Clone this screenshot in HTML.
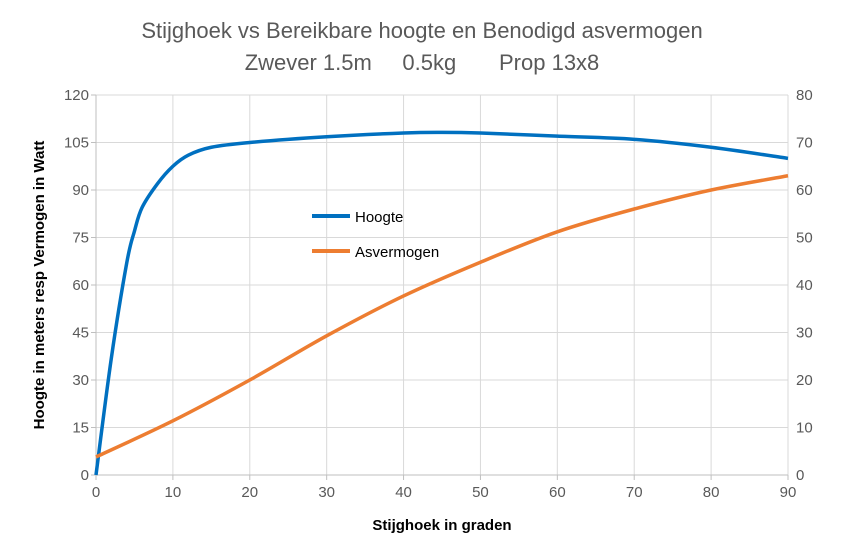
<!DOCTYPE html>
<html><head><meta charset="utf-8"><style>
body{margin:0;background:#fff;}
svg text{font-family:"Liberation Sans",sans-serif;}
</style></head><body>
<svg id="chart" width="846" height="549" xmlns="http://www.w3.org/2000/svg">
<rect width="846" height="549" fill="#fff"/>
<text x="422" y="38" font-size="22" fill="#595959" text-anchor="middle">Stijghoek vs Bereikbare hoogte en Benodigd asvermogen</text>
<text x="422" y="70" font-size="22" fill="#595959" text-anchor="middle" xml:space="preserve">Zwever 1.5m     0.5kg       Prop 13x8</text>
<g id="grid"></g><g id="axes"></g><g id="series"></g>
<text x="442" y="530" font-size="15" font-weight="bold" fill="#000" text-anchor="middle">Stijghoek in graden</text>
<text transform="translate(44,285) rotate(-90)" font-size="15" font-weight="bold" fill="#000" text-anchor="middle">Hoogte in meters resp Vermogen in Watt</text>
<g>
<line x1="312" y1="216" x2="350" y2="216" stroke="#0070C0" stroke-width="4"/>
<text x="355" y="222" font-size="15" fill="#000">Hoogte</text>
<line x1="312" y1="251" x2="350" y2="251" stroke="#ED7D31" stroke-width="4"/>
<text x="355" y="257" font-size="15" fill="#000">Asvermogen</text>
</g>
</svg>
<script>
const xTicks=[0,10,20,30,40,50,60,70,80,90];
const leftTicks=[0,15,30,45,60,75,90,105,120];
const rightTicks=[0,10,20,30,40,50,60,70,80];
const hoogteX=[0,2,4,5,6,8,10,12,15,20,30,40,45,50,60,70,80,90];
const hoogteY=[0,37,67,77,84.5,92,97.5,101,103.5,105,106.8,108,108.2,108,107,106,103.5,100];
const asX=[0,10,20,30,40,50,60,70,80,90];
const asY=[3.8,11.4,20,29.3,37.7,44.8,51.2,56,60,63];
const L=96,R=788,T=95,B=475;
const sx=v=>L+(v-0)/90*(R-L);
const sy=v=>B-v/120*(B-T);
const sy2=v=>B-v/80*(B-T);
const NS="http://www.w3.org/2000/svg";
function mk(p,tag,attrs){const e=document.createElementNS(NS,tag);for(const k in attrs)e.setAttribute(k,attrs[k]);p.appendChild(e);return e;}
const grid=document.getElementById('grid'),axes=document.getElementById('axes'),ser=document.getElementById('series');
leftTicks.forEach((t,i)=>{
 const g=mk(grid,'line',{x1:L,x2:R,y1:sy(t),y2:sy(t),stroke:'#d9d9d9','stroke-width':1});
 
 
 const tk=mk(axes,'line',{x1:L-5,x2:L,y1:sy(t),y2:sy(t),stroke:'#bfbfbf'});
 
 
 const tx=mk(axes,'text',{x:L-7,y:sy(t)+5,'font-size':15,fill:'#595959','text-anchor':'end'});tx.textContent=t;
 
 
});
rightTicks.forEach(t=>{
 const tx=mk(axes,'text',{x:R+8,y:sy2(t)+5,'font-size':15,fill:'#595959'});tx.textContent=t;
 
 
});
xTicks.forEach(t=>{
 if(t>0){const g=mk(grid,'line',{x1:sx(t),x2:sx(t),y1:T,y2:B,stroke:'#d9d9d9'});
 
 }
 const tk=mk(axes,'line',{x1:sx(t),x2:sx(t),y1:B,y2:B+5,stroke:'#bfbfbf'});
 
 
 const tx=mk(axes,'text',{x:sx(t),y:B+22,'font-size':15,fill:'#595959','text-anchor':'middle'});tx.textContent=t;
 
 
});
const ax=mk(axes,'line',{x1:L,x2:L,y1:T,y2:B,stroke:'#bfbfbf'});


const bx=mk(axes,'line',{x1:L,x2:R,y1:B,y2:B,stroke:'#bfbfbf'});


function path(pts){
 let d=`M${pts[0][0]},${pts[0][1]}`;
 for(let i=0;i<pts.length-1;i++){
  const p0=pts[i-1]||pts[i],p1=pts[i],p2=pts[i+1],p3=pts[i+2]||p2;
  const c1=[p1[0]+(p2[0]-p0[0])/6,p1[1]+(p2[1]-p0[1])/6];
  const c2=[p2[0]-(p3[0]-p1[0])/6,p2[1]-(p3[1]-p1[1])/6];
  d+=` C${c1[0]},${c1[1]} ${c2[0]},${c2[1]} ${p2[0]},${p2[1]}`;
 }
 return d;
}
const h=mk(ser,'path',{d:path(hoogteX.map((x,i)=>[sx(x),sy(hoogteY[i])])),fill:'none',stroke:'#0070C0','stroke-width':3.5,'stroke-linejoin':'round'});


const a=mk(ser,'path',{d:path(asX.map((x,i)=>[sx(x),sy2(asY[i])])),fill:'none',stroke:'#ED7D31','stroke-width':3.5,'stroke-linejoin':'round'});


</script>
</body></html>
